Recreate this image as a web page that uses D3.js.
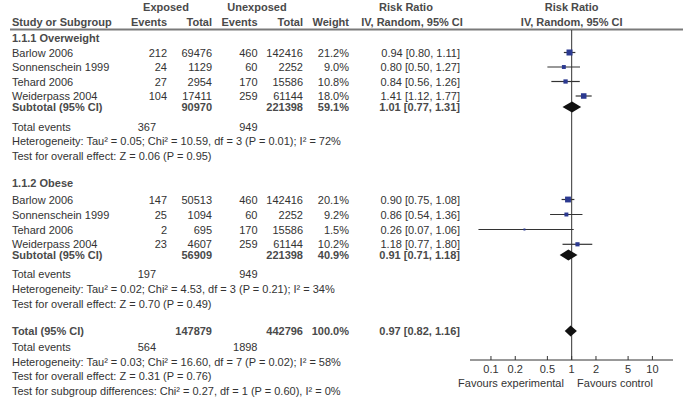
<!DOCTYPE html>
<html>
  <head>
    <meta charset="utf-8" />
    <script src="https://cdn.jsdelivr.net/npm/d3@7"></script>
    <style>
      body {
        margin: 0;
        background: #fff;
      }
      text {
        font-family: "Liberation Sans", Arial, Helvetica, sans-serif;
        font-size: 11px;
        fill: #333;
      }
      .b {
        font-weight: bold;
        fill: #4a4a4a;
      }
    </style>
  </head>
  <body>
    <script>
      // study data, same study names in both subgroups
      var studyNames = ["Barlow 2006", "Sonnenschein 1999", "Tehard 2006", "Weiderpass 2004"];

      var owExpEvents = [212, 24, 27, 104];
      var owExpTotal = [69476, 1129, 2954, 17411];
      var owUnEvents = [460, 60, 170, 259];
      var owUnTotal = [142416, 2252, 15586, 61144];
      var owWeight = [21.2, 9.0, 10.8, 18.0];
      var owRR = [0.94, 0.8, 0.84, 1.41];
      var owLo = [0.8, 0.5, 0.56, 1.12];
      var owHi = [1.11, 1.27, 1.26, 1.77];

      var obExpEvents = [147, 25, 2, 23];
      var obExpTotal = [50513, 1094, 695, 4607];
      var obUnEvents = [460, 60, 170, 259];
      var obUnTotal = [142416, 2252, 15586, 61144];
      var obWeight = [20.1, 9.2, 1.5, 10.2];
      var obRR = [0.9, 0.86, 0.26, 1.18];
      var obLo = [0.75, 0.54, 0.07, 0.77];
      var obHi = [1.08, 1.36, 1.06, 1.8];

      // subtotals + overall total (index 0 overweight, 1 obese, 2 total)
      var sumLabels = ["Subtotal (95% CI)", "Subtotal (95% CI)", "Total (95% CI)"];
      var sumExpTotal = [90970, 56909, 147879];
      var sumUnTotal = [221398, 221398, 442796];
      var sumWeight = [59.1, 40.9, 100.0];
      var sumRR = [1.01, 0.91, 0.97];
      var sumLo = [0.77, 0.71, 0.82];
      var sumHi = [1.31, 1.18, 1.16];
      var sumExpEvents = [367, 197, 564];
      var sumUnEvents = [949, 949, 1898];
      var hetText = [
        "Heterogeneity: Tau² = 0.05; Chi² = 10.59, df = 3 (P = 0.01); I² = 72%",
        "Heterogeneity: Tau² = 0.02; Chi² = 4.53, df = 3 (P = 0.21); I² = 34%",
        "Heterogeneity: Tau² = 0.03; Chi² = 16.60, df = 7 (P = 0.02); I² = 58%",
      ];
      var effectText = [
        "Test for overall effect: Z = 0.06 (P = 0.95)",
        "Test for overall effect: Z = 0.70 (P = 0.49)",
        "Test for overall effect: Z = 0.31 (P = 0.76)",
      ];
      var subgroupText = "Test for subgroup differences: Chi² = 0.27, df = 1 (P = 0.60), I² = 0%";
      var groupNames = ["1.1.1 Overweight", "1.1.2 Obese"];

      var tickValues = [0.1, 0.2, 0.5, 1, 2, 5, 10];

      var width = 687,
        height = 401;

      var svg = d3
        .select("body")
        .append("svg")
        .attr("width", width)
        .attr("height", height);

      // column right edges
      var col = { label: 12, expEv: 167, expTot: 212, unEv: 257.5, unTot: 303, weight: 349, rr: 460, totEv: 156 };

      // log scale of the forest plot
      var x = d3.scaleLog().domain([0.055, 18]).range([470, 673]);
      var size = d3.scaleSqrt().domain([0, 21.2]).range([0, 6]);

      function txt(s, xx, y, anchor, cls) {
        return svg
          .append("text")
          .attr("x", xx)
          .attr("y", y + 4)
          .attr("text-anchor", anchor || "start")
          .attr("class", cls || null)
          .text(s);
      }

      // header
      txt("Exposed", 166, 7, "middle", "b");
      txt("Unexposed", 257, 7, "middle", "b");
      txt("Risk Ratio", 406, 7, "middle", "b");
      txt("Risk Ratio", x(1), 7, "middle", "b");
      txt("Study or Subgroup", col.label, 21.7, "start", "b");
      txt("Events", col.expEv, 21.7, "end", "b");
      txt("Total", col.expTot, 21.7, "end", "b");
      txt("Events", col.unEv, 21.7, "end", "b");
      txt("Total", col.unTot, 21.7, "end", "b");
      txt("Weight", col.weight, 21.7, "end", "b");
      txt("IV, Random, 95% CI", 412, 21.7, "middle", "b");
      txt("IV, Random, 95% CI", x(1), 21.7, "middle", "b");

      svg
        .append("line")
        .attr("x1", 10)
        .attr("x2", 683)
        .attr("y1", 29.5)
        .attr("y2", 29.5)
        .attr("stroke", "#7a7a7a")
        .attr("stroke-width", 2);

      // vertical line of no effect
      svg
        .append("line")
        .attr("x1", x(1))
        .attr("x2", x(1))
        .attr("y1", 30)
        .attr("y2", 360)
        .attr("stroke", "#333")
        .attr("stroke-width", 1);

      function fmt2(v) {
        return v.toFixed(2);
      }

      var groups = [
        {
          ev: owExpEvents, tot: owExpTotal, uev: owUnEvents, utot: owUnTotal,
          w: owWeight, rr: owRR, lo: owLo, hi: owHi,
          top: 38, rows: [52.5, 67, 81.5, 96], sub: 107, events: 126.5, het: 141, eff: 155.7,
        },
        {
          ev: obExpEvents, tot: obExpTotal, uev: obUnEvents, utot: obUnTotal,
          w: obWeight, rr: obRR, lo: obLo, hi: obHi,
          top: 183.3, rows: [199.5, 214.5, 229.5, 244.3], sub: 255, events: 274, het: 288.5, eff: 304,
        },
      ];

      function diamond(i, y) {
        var h = 5.5;
        var pts = [
          [x(sumLo[i]), y],
          [x(sumRR[i]), y - h],
          [x(sumHi[i]), y],
          [x(sumRR[i]), y + h],
        ];
        svg.append("polygon").attr("points", pts.join(" ")).attr("fill", "#111");
      }

      groups.forEach(function (g, gi) {
        txt(groupNames[gi], col.label, g.top, "start", "b");
        studyNames.forEach(function (name, i) {
          var y = g.rows[i];
          txt(name, col.label, y);
          txt(g.ev[i], col.expEv, y, "end");
          txt(g.tot[i], col.expTot, y, "end");
          txt(g.uev[i], col.unEv, y, "end");
          txt(g.utot[i], col.unTot, y, "end");
          txt(g.w[i].toFixed(1) + "%", col.weight, y, "end");
          txt(fmt2(g.rr[i]) + " [" + fmt2(g.lo[i]) + ", " + fmt2(g.hi[i]) + "]", col.rr, y, "end");

          svg
            .append("line")
            .attr("x1", x(g.lo[i]))
            .attr("x2", x(g.hi[i]))
            .attr("y1", y)
            .attr("y2", y)
            .attr("stroke", "#333")
            .attr("stroke-width", 1.2);
          var s = Math.max(size(g.w[i]), 2);
          svg
            .append("rect")
            .attr("x", x(g.rr[i]) - s / 2)
            .attr("y", y - s / 2)
            .attr("width", s)
            .attr("height", s)
            .attr("fill", "#2b3990");
        });

        txt(sumLabels[gi], col.label, g.sub, "start", "b");
        txt(sumExpTotal[gi], col.expTot, g.sub, "end", "b");
        txt(sumUnTotal[gi], col.unTot, g.sub, "end", "b");
        txt(sumWeight[gi].toFixed(1) + "%", col.weight, g.sub, "end", "b");
        txt(fmt2(sumRR[gi]) + " [" + fmt2(sumLo[gi]) + ", " + fmt2(sumHi[gi]) + "]", col.rr, g.sub, "end", "b");
        diamond(gi, g.sub);

        txt("Total events", col.label, g.events);
        txt(sumExpEvents[gi], col.totEv, g.events, "end");
        txt(sumUnEvents[gi], col.unEv, g.events, "end");
        txt(hetText[gi], col.label, g.het);
        txt(effectText[gi], col.label, g.eff);
      });

      // overall
      var ty = 331;
      txt(sumLabels[2], col.label, ty, "start", "b");
      txt(sumExpTotal[2], col.expTot, ty, "end", "b");
      txt(sumUnTotal[2], col.unTot, ty, "end", "b");
      txt(sumWeight[2].toFixed(1) + "%", col.weight, ty, "end", "b");
      txt(fmt2(sumRR[2]) + " [" + fmt2(sumLo[2]) + ", " + fmt2(sumHi[2]) + "]", col.rr, ty, "end", "b");
      diamond(2, ty);
      txt("Total events", col.label, 347.3);
      txt(sumExpEvents[2], col.totEv, 347.3, "end");
      txt(sumUnEvents[2], col.unEv, 347.3, "end");
      txt(hetText[2], col.label, 361.7);
      txt(effectText[2], col.label, 376);
      txt(subgroupText, col.label, 390.5);

      // axis
      var axisY = 360;
      svg
        .append("line")
        .attr("x1", x.range()[0])
        .attr("x2", x.range()[1])
        .attr("y1", axisY)
        .attr("y2", axisY)
        .attr("stroke", "#333");
      var ticks = svg.append("g").selectAll("g").data(tickValues).enter().append("g");
      ticks
        .append("line")
        .attr("x1", function (d) { return x(d); })
        .attr("x2", function (d) { return x(d); })
        .attr("y1", axisY - 4)
        .attr("y2", axisY)
        .attr("stroke", "#333");
      ticks
        .append("text")
        .attr("x", function (d) { return x(d); })
        .attr("y", axisY + 13)
        .attr("text-anchor", "middle")
        .text(function (d) { return d; });

      txt("Favours experimental", 511, 382.7, "middle");
      txt("Favours control", 615, 382.7, "middle");
    </script>
  </body>
</html>
